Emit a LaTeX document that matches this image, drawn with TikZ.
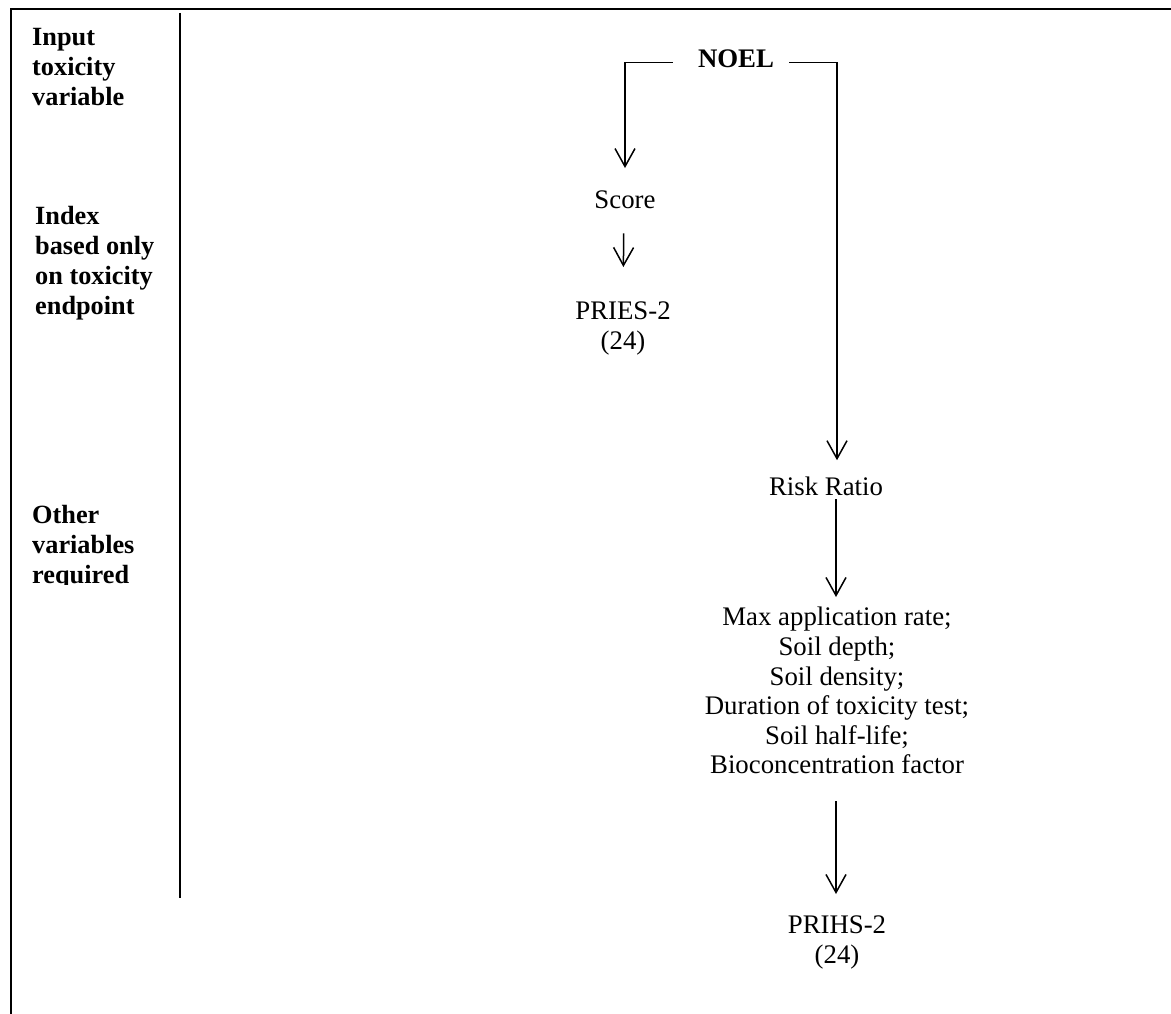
\documentclass[tikz,border=0pt]{standalone}
\usepackage{fontspec}
\setmainfont{Liberation Serif}
\usetikzlibrary{arrows.meta}
\begin{document}
\begin{tikzpicture}[x=1pt,y=-1pt,
  lbl/.style={font=\fontsize{26.3}{30}\selectfont\bfseries, align=left, inner sep=0pt, anchor=north west},
  txt/.style={font=\fontsize{26.8}{29.6}\selectfont, align=center, inner sep=0pt},
  conn/.style={line width=1.5pt, -{Straight Barb[length=18pt,width=20pt,line width=1.5pt]}},
  frameline/.style={line width=2.5pt},
  divline/.style={line width=2pt}]
\useasboundingbox (0,0) rectangle (1171,1014);
% frame and divider
\draw[frameline] (1171,9) -- (11,9) -- (11,1014);
\draw[divline] (180,13) -- (180,898);
% left labels
\node[lbl] (inlab) at (32,28) {Input\\toxicity\\variable};
\node[lbl] (idxlab) at (35,206) {Index\\based only\\on toxicity\\endpoint};
\begin{scope}
\clip (12,490) rectangle (179,584.5);
\node[lbl] (othlab) at (32,505) {Other\\variables\\required};
\end{scope}
% diagram nodes
\node[txt, font=\fontsize{26.8}{29.6}\selectfont\bfseries, anchor=base] (noel) at (736,68) {NOEL};
\node[txt, anchor=base] (score) at (625,208) {Score};
\node[txt, anchor=north] (pries) at (623,302) {PRIES-2\\(24)};
\node[txt, anchor=base] (risk) at (826,495) {Risk Ratio};
\node[txt, anchor=north] (params) at (837,607) {Max application rate;\\Soil depth;\\Soil density;\\Duration of toxicity test;\\Soil half-life;\\Bioconcentration factor};
\node[txt, anchor=north] (prihs) at (837,916) {PRIHS-2\\(24)};
% connectors
\draw[conn, shorten >=22pt] ([xshift=-25pt,yshift=-3pt]noel.west) -| (score.north);
\draw[conn, shorten >=16pt] ([xshift=15pt,yshift=-3pt]noel.east) -| ([xshift=11pt]risk.north);
\draw[conn, shorten <=25pt, shorten >=35pt] ([xshift=-1pt]score.south) -- (pries.north);
\draw[conn, shorten <=4pt, shorten >=10pt] ([xshift=10pt]risk.south) -- ([xshift=-1pt]params.north);
\draw[conn, shorten <=27pt, shorten >=22pt] ([xshift=-1pt]params.south) -- ([xshift=-1pt]prihs.north);
\end{tikzpicture}
\end{document}
